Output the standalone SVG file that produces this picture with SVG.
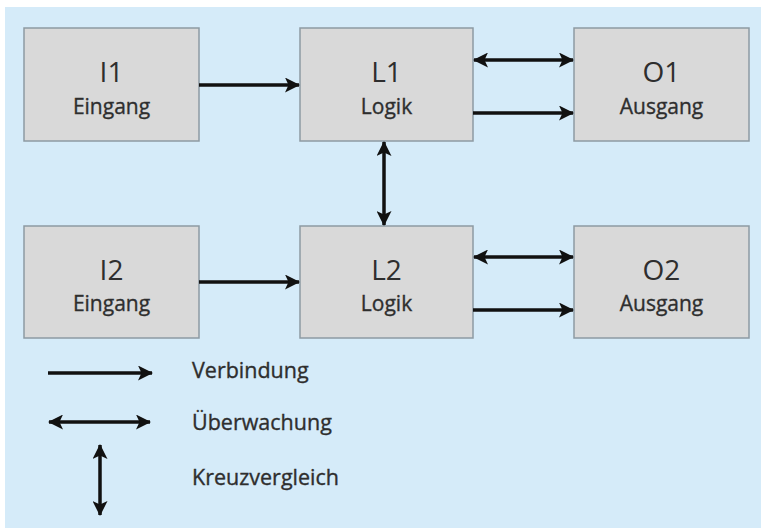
<svg xmlns="http://www.w3.org/2000/svg" width="761" height="531" viewBox="0 0 761 531">
  <defs>
    <marker id="head" viewBox="0 0 15 15" refX="14" refY="7.5" markerWidth="15" markerHeight="15" markerUnits="userSpaceOnUse" orient="auto-start-reverse">
      <path d="M0,0 L15,7.5 L0,15 L3.5,7.5 Z" fill="#111"/>
    </marker>
    <style>
      .box { fill: #d9d9d9; stroke: #8d9aa3; stroke-width: 1.5; }
      .title { font-family: "Open Sans", "Noto Sans", sans-serif; font-size: 28px; fill: #2e2e2e; text-anchor: middle; }
      .sub { font-family: "Open Sans", "Noto Sans", sans-serif; font-size: 21px; fill: #2e2e2e; text-anchor: middle; stroke: #2e2e2e; stroke-width: 0.35; }
      .legend { font-family: "Open Sans", "Noto Sans", sans-serif; font-size: 21.5px; fill: #2e2e2e; stroke: #2e2e2e; stroke-width: 0.35; }
      .one { stroke: #111; stroke-width: 3.5; fill: none; marker-end: url(#head); }
      .two { stroke: #111; stroke-width: 3.5; fill: none; marker-start: url(#head); marker-end: url(#head); }
    </style>
  </defs>

  <rect x="0" y="0" width="761" height="531" fill="#ffffff"/>
  <rect x="5" y="7" width="756" height="521" fill="#d5ebf9"/>

  <g id="I1">
    <rect class="box" x="24" y="28" width="175" height="113"/>
    <text class="title" x="111.5" y="82">I1</text>
    <text class="sub" x="111.5" y="114">Eingang</text>
  </g>
  <g id="L1">
    <rect class="box" x="300" y="28" width="173" height="113"/>
    <text class="title" x="386.5" y="82">L1</text>
    <text class="sub" x="386.5" y="114">Logik</text>
  </g>
  <g id="O1">
    <rect class="box" x="574" y="28" width="175" height="113"/>
    <text class="title" x="661.5" y="82">O1</text>
    <text class="sub" x="661.5" y="114">Ausgang</text>
  </g>
  <g id="I2">
    <rect class="box" x="24" y="226" width="175" height="112"/>
    <text class="title" x="111.5" y="280">I2</text>
    <text class="sub" x="111.5" y="311">Eingang</text>
  </g>
  <g id="L2">
    <rect class="box" x="300" y="226" width="173" height="112"/>
    <text class="title" x="386.5" y="280">L2</text>
    <text class="sub" x="386.5" y="311">Logik</text>
  </g>
  <g id="O2">
    <rect class="box" x="574" y="226" width="175" height="112"/>
    <text class="title" x="661.5" y="280">O2</text>
    <text class="sub" x="661.5" y="311">Ausgang</text>
  </g>

  <g id="connectors">
    <line class="one" x1="199" y1="85" x2="299" y2="85"/>
    <line class="two" x1="474" y1="60" x2="573" y2="60"/>
    <line class="one" x1="473" y1="113" x2="573" y2="113"/>
    <line class="two" x1="384" y1="142" x2="384" y2="225"/>
    <line class="one" x1="199" y1="282" x2="299" y2="282"/>
    <line class="two" x1="474" y1="257" x2="573" y2="257"/>
    <line class="one" x1="473" y1="310" x2="573" y2="310"/>
  </g>

  <g id="legend">
    <line class="one" x1="48" y1="373" x2="152" y2="373"/>
    <text class="legend" x="192" y="378">Verbindung</text>
    <line class="two" x1="49" y1="422" x2="150" y2="422"/>
    <text class="legend" x="192" y="430">Überwachung</text>
    <line class="two" x1="100" y1="445" x2="100" y2="515"/>
    <text class="legend" x="192" y="485">Kreuzvergleich</text>
  </g>
</svg>
